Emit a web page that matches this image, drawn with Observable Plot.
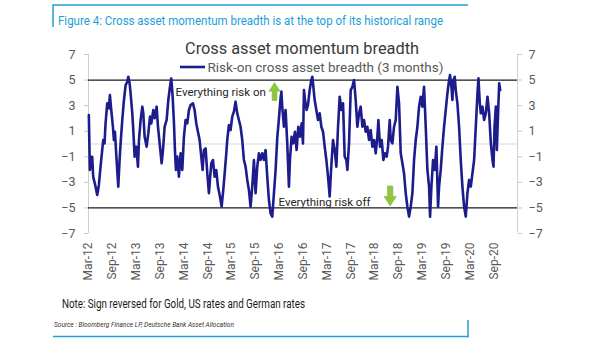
<!DOCTYPE html>
<html>
<head>
<meta charset="utf-8">
<script src="https://cdn.jsdelivr.net/npm/d3@7"></script>
<script src="https://cdn.jsdelivr.net/npm/@observablehq/plot@0.6"></script>
<style>
  html, body { margin: 0; padding: 0; background: #fff; }
  #wrap { position: relative; width: 605px; height: 341px; overflow: hidden; background: #fff; }
  #chart { position: absolute; left: 0; top: 0; }
  #overlay { position: absolute; left: 0; top: 0; pointer-events: none; }
</style>
</head>
<body>
<div id="wrap">
  <div id="chart"></div>
  <svg id="overlay" width="605" height="341" xmlns="http://www.w3.org/2000/svg"></svg>
</div>
<script>
// ---------- data ----------
// decimal-year time stamps of the series
const years = [
  2012.171,2012.192,2012.241,2012.262,2012.311,2012.346,2012.360,2012.381,2012.416,2012.451,
  2012.472,2012.500,2012.521,2012.556,2012.591,2012.612,2012.640,2012.675,2012.696,2012.717,
  2012.752,2012.787,2012.815,2012.836,2012.871,2012.906,2012.941,2012.976,2012.997,2013.025,
  2013.046,2013.081,2013.102,2013.130,2013.165,2013.200,2013.221,2013.256,2013.291,2013.312,
  2013.340,2013.382,2013.417,2013.452,2013.480,2013.522,2013.550,2013.592,2013.620,2013.662,
  2013.697,2013.725,2013.760,2013.802,2013.837,2013.872,2013.900,2013.928,2013.956,2013.976,
  2013.997,2014.025,2014.060,2014.095,2014.130,2014.165,2014.200,2014.235,2014.270,2014.305,
  2014.354,2014.389,2014.424,2014.459,2014.494,2014.529,2014.557,2014.585,2014.620,2014.655,
  2014.690,2014.711,2014.739,2014.774,2014.809,2014.844,2014.879,2014.921,2014.956,2014.991,
  2015.026,2015.054,2015.074,2015.109,2015.144,2015.179,2015.214,2015.249,2015.284,2015.319,
  2015.354,2015.389,2015.424,2015.459,2015.494,2015.529,2015.564,2015.599,2015.634,2015.669,
  2015.704,2015.739,2015.774,2015.809,2015.844,2015.879,2015.914,2015.949,2015.984,2016.019,
  2016.054,2016.089,2016.124,2016.159,2016.193,2016.210,
  2016.228,2016.263,2016.298,2016.333,2016.368,2016.389,2016.424,2016.459,2016.494,2016.529,
  2016.564,2016.599,2016.634,2016.662,2016.683,2016.704,2016.739,2016.767,2016.802,2016.837,
  2016.858,2016.879,2016.907,2016.942,2016.977,2017.012,2017.047,2017.082,2017.117,2017.152,
  2017.187,2017.222,2017.243,2017.264,2017.292,2017.327,2017.362,2017.397,2017.432,2017.467,
  2017.502,2017.537,2017.572,2017.593,2017.628,2017.663,2017.698,2017.733,2017.768,2017.803,
  2017.838,2017.873,2017.908,2017.943,2017.978,2018.013,2018.048,2018.083,2018.118,2018.153,
  2018.188,2018.223,2018.244,2018.279,2018.314,2018.349,2018.384,2018.419,2018.447,2018.482,
  2018.503,2018.538,2018.573,2018.608,2018.643,2018.678,2018.713,2018.748,2018.783,2018.818,
  2018.853,2018.888,2018.923,2018.958,2018.993,2019.028,2019.063,2019.098,2019.133,2019.168,
  2019.203,2019.238,2019.273,2019.308,2019.329,2019.357,2019.392,2019.427,2019.462,2019.497,
  2019.518,2019.553,2019.588,2019.623,2019.658,2019.693,2019.728,2019.749,2019.777,2019.798,
  2019.819,2019.847,2019.868,2019.903,2019.938,2019.973,2020.008,2020.043,2020.078,2020.113,
  2020.148,2020.183,2020.218,2020.253,2020.288,2020.323,2020.344,2020.372,2020.393,2020.428,
  2020.463,2020.498,2020.533,2020.568,2020.603,2020.638,2020.659,2020.680,2020.708,2020.729,
  2020.757,2020.778,2020.799
];
// Risk-on cross asset breadth (3 months)
const breadth = [
  2.27,-2.03,-0.99,-2.55,-3.33,-3.98,-3.72,-3.20,-1.77,-0.47,
  0.31,0.05,1.61,3.18,2.79,3.83,2.66,1.35,0.31,0.96,
  -1.25,-3.33,-1.25,0.05,1.88,3.44,4.61,4.87,5.26,4.74,
  3.96,2.40,1.09,-0.99,-0.21,-1.77,0.31,1.88,2.92,2.40,
  0.57,-0.21,0.83,2.14,1.61,2.66,2.01,2.92,1.35,-0.21,
  -1.51,-0.47,1.35,1.88,3.44,4.48,5.13,3.70,1.61,-0.47,
  -2.03,-0.99,-2.55,-0.73,-2.03,0.57,1.88,1.61,2.66,3.05,
  3.18,2.66,1.61,0.96,0.31,-0.99,-2.03,-0.47,-0.34,-2.29,
  -3.85,-2.81,-1.51,-1.25,-2.55,-2.03,-3.33,-4.11,-4.90,-3.59,
  -2.03,-0.73,0.31,1.48,1.09,2.14,2.53,3.31,2.40,1.88,
  1.35,0.31,-1.25,-1.77,-2.81,-3.59,-4.90,-3.33,-1.25,-3.85,
  -1.77,-0.73,-1.25,-0.73,-1.25,-0.47,-2.55,-4.38,-5.42,-5.68,
  -3.85,-2.03,0.50,2.00,3.60,4.10,
  2.92,1.35,2.66,0.05,-3.33,-1.25,0.57,0.05,0.96,-0.47,
  1.35,0.57,1.61,0.05,4.22,3.44,2.66,3.05,4.22,5.00,
  5.26,4.48,3.44,2.66,1.88,2.40,1.35,0.96,-0.21,-1.25,
  -2.55,-4.11,-2.55,-1.25,0.31,-0.47,-1.77,1.35,3.70,2.66,
  3.18,-0.99,-1.25,-2.03,0.05,4.22,4.48,5.00,3.44,1.35,
  2.40,2.92,1.35,1.88,0.96,1.35,0.31,1.09,-0.21,0.31,
  -0.73,0.57,1.88,-0.21,0.31,-1.25,-0.73,-0.99,-0.21,1.88,
  0.31,0.05,1.35,1.88,4.48,3.18,-0.73,-1.51,-2.29,-3.85,
  -4.90,-5.68,-4.90,-3.85,-1.25,0.31,1.35,2.92,3.70,2.92,
  4.48,1.35,-2.03,-3.33,-5.68,-3.33,-1.25,-2.03,-0.21,-4.90,
  -3.33,-2.03,-0.21,1.35,2.66,3.96,5.00,5.39,4.48,3.44,
  5.00,5.26,4.22,3.18,1.35,-1.25,-3.33,-4.90,-5.68,-3.85,
  -2.81,-3.33,-2.29,-1.25,1.35,3.96,5.13,3.18,2.40,2.92,
  1.88,2.40,3.70,2.40,0.05,-1.25,-1.77,1.35,2.92,-0.47,
  2.66,4.74,4.22
];
// axis ticks
const xTickDates = [
  "2012-03-01","2012-09-01","2013-03-01","2013-09-01","2014-03-01","2014-09-01",
  "2015-03-01","2015-09-01","2016-03-01","2016-09-01","2017-03-01","2017-09-01",
  "2018-03-01","2018-09-01","2019-03-01","2019-09-01","2020-03-01","2020-09-01"
];
const xDomainDates = ["2012-03-01", "2021-03-01"];
const yTicks = [-7, -5, -3, -1, 1, 3, 5, 7];
const yDomain = [-7, 7];
const thresholds = [5, -5];
// annotations
const annoText = ["Everything risk on", "Everything risk off"];
const annoYear = [2013.99, 2016.151];
const annoValue = [4.06, -4.53];
const arrowYear = [2016.067, 2018.491];
const arrowValue = [4.1, -4.06];

// texts
const figTitle = "Figure 4: Cross asset momentum breadth is at the top of its historical range";
const chartTitle = "Cross asset momentum breadth";
const seriesName = "Risk-on cross asset breadth (3 months)";
const noteText = "Note: Sign reversed for Gold, US rates and German rates";
const sourceText = "Source : Bloomberg Finance LP, Deutsche Bank Asset Allocation";

// ---------- helpers ----------
if (years.length !== breadth.length) throw new Error("length mismatch " + years.length + " vs " + breadth.length);
function decYearToDate(t) {
  const y = Math.floor(t);
  const a = Date.UTC(y, 0, 1), b = Date.UTC(y + 1, 0, 1);
  return new Date(a + (t - y) * (b - a));
}
const series = years.map((t, i) => ({date: decYearToDate(t), value: breadth[i]}));
const xDomain = xDomainDates.map(s => new Date(s + "T00:00:00Z"));
const xTicks = xTickDates.map(s => new Date(s + "T00:00:00Z"));
const annos = annoText.map((s, i) => ({text: s, date: decYearToDate(annoYear[i]), value: annoValue[i]}));
const arrows = arrowYear.map((t, i) => ({date: decYearToDate(t), value: arrowValue[i]}));

function blockArrow(dir) {
  return {
    draw(ctx, size) {
      const r = Math.sqrt(size / Math.PI);
      const hw = r * 0.62, sw = r * 0.27, hh = r * 0.95;
      const s = dir === "up" ? 1 : -1;
      ctx.moveTo(0, -r * s);
      ctx.lineTo(hw, (-r + hh) * s);
      ctx.lineTo(sw, (-r + hh) * s);
      ctx.lineTo(sw, r * s);
      ctx.lineTo(-sw, r * s);
      ctx.lineTo(-sw, (-r + hh) * s);
      ctx.lineTo(-hw, (-r + hh) * s);
      ctx.closePath();
    }
  };
}
const fmt = d3.utcFormat("%b-%y");

const chart = Plot.plot({
  width: 605,
  height: 285,
  marginLeft: 88,
  marginRight: 88,
  marginTop: 54,
  marginBottom: 52,
  style: {fontFamily: "Roboto, 'Liberation Sans', sans-serif", fontSize: "12px", color: "#595959", background: "transparent"},
  x: {type: "utc", domain: xDomain},
  y: {domain: yDomain},
  marks: [
    Plot.ruleY([0], {stroke: "#d9d9d9", strokeWidth: 1}),
    Plot.ruleX(xDomain, {y1: yDomain[0], y2: yDomain[1], stroke: "#d0d0d0"}),
    Plot.axisY({anchor: "left", ticks: yTicks, tickSize: 4, tickPadding: 9, stroke: "#c8c8c8", fill: "#595959", fontSize: 12.5, label: null}),
    Plot.axisY({anchor: "right", ticks: yTicks, tickSize: 4, tickPadding: 7, stroke: "#c8c8c8", fill: "#595959", fontSize: 12.5, label: null}),
    Plot.axisX({ticks: xTicks, tickFormat: fmt, tickRotate: -90, tickSize: 0, tickPadding: 9, fill: "#595959", fontSize: 12, label: null}),
    Plot.ruleY(thresholds, {stroke: "#1a1a1a", strokeWidth: 1.3}),
    Plot.line(series, {x: "date", y: "value", stroke: "#1c1c8c", strokeWidth: 2.6, strokeLinejoin: "round"}),
    Plot.text(annos, {x: "date", y: "value", text: "text", textAnchor: "start", fill: "#262626", fontSize: 11.5}),
    Plot.dot(arrows.slice(0, 1), {x: "date", y: "value", r: 9, symbol: blockArrow("up"), fill: "#8dc63f", stroke: "#7db235", strokeWidth: 0.5}),
    Plot.dot(arrows.slice(1, 2), {x: "date", y: "value", r: 10, symbol: blockArrow("down"), fill: "#8dc63f", stroke: "#7db235", strokeWidth: 0.5})
  ]
});
document.getElementById("chart").appendChild(chart);

// ---------- overlay: frame, titles, legend, note, source ----------
const ov = d3.select("#overlay");
const frameColor = "#229fd6";
[[53, 5, 468, 5], [53, 4.3, 53, 27], [53, 336.5, 468.7, 336.5], [468, 320, 468, 337.2]].forEach(([x1, y1, x2, y2]) => {
  ov.append("line").attr("x1", x1).attr("y1", y1).attr("x2", x2).attr("y2", y2)
    .attr("stroke", frameColor).attr("stroke-width", 1.5);
});
function addText(str, x, y, size, color, width, opts = {}) {
  const t = ov.append("text").attr("x", x).attr("y", y)
    .attr("font-family", opts.family || "Roboto, 'Liberation Sans', sans-serif")
    .attr("font-size", size).attr("fill", color).text(str);
  if (opts.italic) t.attr("font-style", "italic");
  if (opts.weight) t.attr("font-weight", opts.weight);
  if (width) t.attr("textLength", width).attr("lengthAdjust", "spacingAndGlyphs");
  return t;
}
addText(figTitle, 58, 24.5, 13, frameColor, 385);
addText(chartTitle, 185, 53.5, 16, "#3a3a3a", 234);
ov.append("line").attr("x1", 180).attr("y1", 67).attr("x2", 205).attr("y2", 67)
  .attr("stroke", "#1c1c8c").attr("stroke-width", 2.6);
addText(seriesName, 207.5, 71.5, 13, "#595959", 236);
addText(noteText, 62, 307.5, 12.5, "#1a1a1a", 243);
addText(sourceText, 54, 326.5, 7.5, "#333", 180, {italic: true});
</script>
</body>
</html>
